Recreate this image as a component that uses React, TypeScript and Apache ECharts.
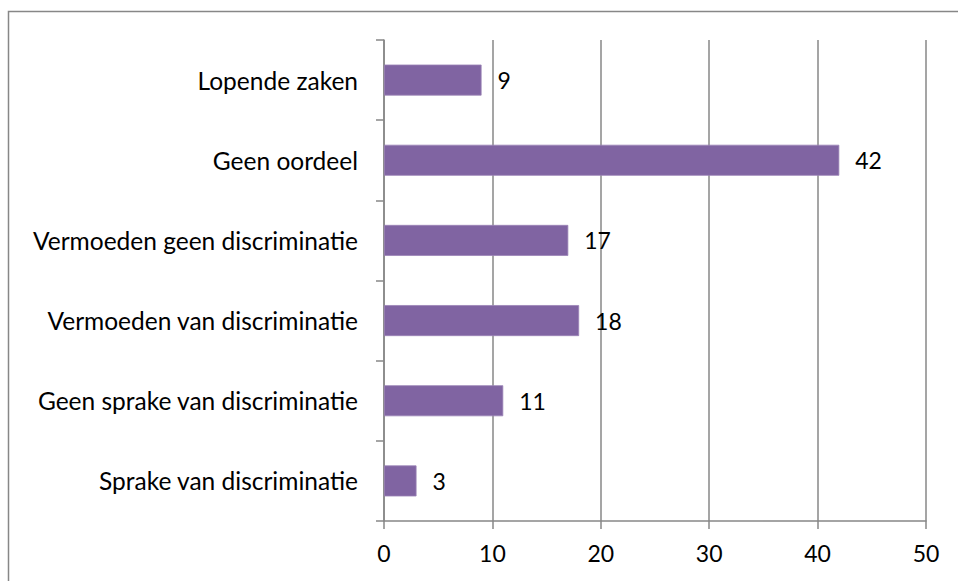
import React, { useEffect, useRef } from "react";
import * as echarts from "echarts";

const categories = [
  "Sprake van discriminatie",
  "Geen sprake van discriminatie",
  "Vermoeden van discriminatie",
  "Vermoeden geen discriminatie",
  "Geen oordeel",
  "Lopende zaken",
];
const values = [3, 11, 18, 17, 42, 9];
const xTicks = { min: 0, max: 50, interval: 10 };

const FONT = "Lato";
const FS = 23;

export default function App() {
  const ref = useRef<HTMLDivElement>(null);
  useEffect(() => {
    if (!ref.current) return;
    const chart = echarts.init(ref.current, null, { renderer: "svg" });
    chart.setOption({
      animation: false,
      backgroundColor: "#ffffff",
      graphic: [
        {
          type: "rect",
          shape: { x: 8.5, y: 11.5, width: 1000, height: 700 },
          style: { fill: "none", stroke: "#878787", lineWidth: 1.5 },
          silent: true,
        },
      ],
      grid: { left: 384, right: 32, top: 40, bottom: 60, containLabel: false },
      xAxis: {
        type: "value",
        min: xTicks.min,
        max: xTicks.max,
        interval: xTicks.interval,
        axisLine: { show: true, lineStyle: { color: "#878787", width: 1.5 } },
        axisTick: { show: true, length: 8, lineStyle: { color: "#878787", width: 1.5 } },
        splitLine: { show: true, lineStyle: { color: "#878787", width: 1.5 } },
        axisLabel: { color: "#000", fontFamily: FONT, fontSize: FS, margin: 20 },
      },
      yAxis: {
        type: "category",
        data: categories,
        axisLine: { show: true, lineStyle: { color: "#878787", width: 1.5 } },
        axisTick: { show: true, length: 8, lineStyle: { color: "#878787", width: 1.5 } },
        axisLabel: { color: "#000", fontFamily: FONT, fontSize: 24.5, margin: 26 },
      },
      series: [
        {
          type: "bar",
          data: values,
          barWidth: 31,
          itemStyle: { color: "#8064A2", borderColor: "#9a83b6", borderWidth: 0.8 },
          label: {
            show: true,
            position: "right",
            distance: 16,
            color: "#000",
            fontFamily: FONT,
            fontSize: FS,
          },
        },
      ],
    });
    return () => chart.dispose();
  }, []);
  return (
    <div
      ref={ref}
      style={{ position: "fixed", left: 0, top: 0, width: 958, height: 581 }}
    />
  );
}
